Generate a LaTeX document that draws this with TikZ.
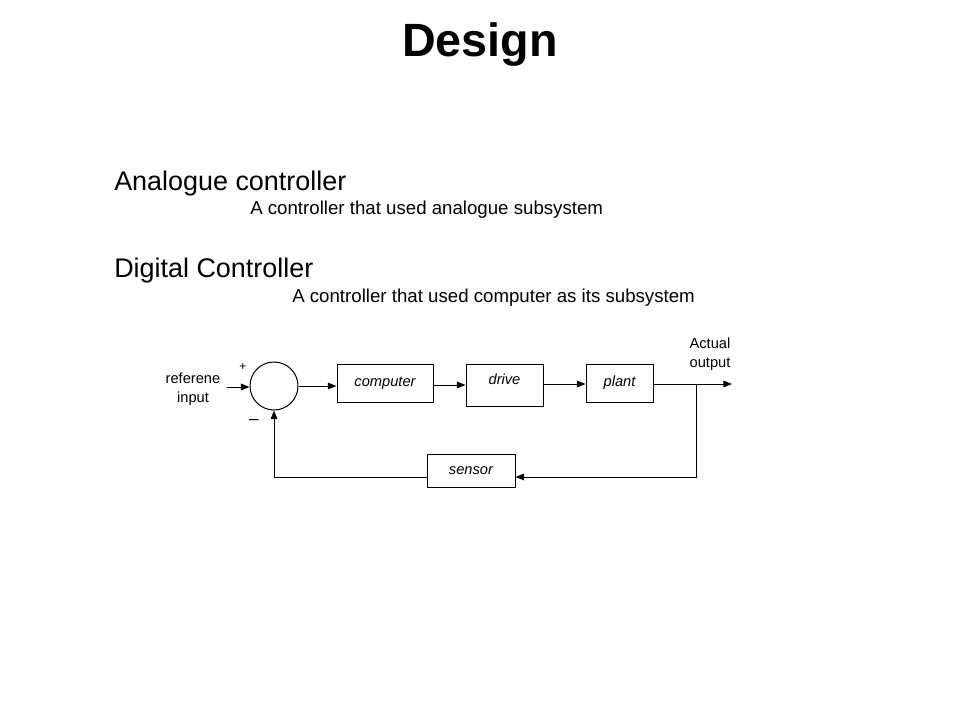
\documentclass[tikz,border=0pt]{standalone}
\usepackage{fontspec}
\setmainfont{Liberation Sans}
\usetikzlibrary{arrows.meta}
\begin{document}
\begin{tikzpicture}[x=0.75pt,y=-0.75pt,
  blk/.style={draw,line width=0.75pt,minimum width=#1,minimum height=28.5pt,inner sep=0pt,font=\fontsize{11}{13}\selectfont\itshape},
  conn/.style={line width=0.75pt,-{Triangle[length=6.5pt,width=5pt]}},
  wire/.style={line width=0.75pt},
  lbl/.style={font=\fontsize{11}{14}\selectfont,align=center,inner sep=0pt}]
\useasboundingbox (0,0) rectangle (960,720);
\node[anchor=base,font=\fontsize{35}{40}\selectfont\bfseries,inner sep=0pt] (title) at (480,57) {Design};
\node[anchor=base west,font=\fontsize{20.2}{24}\selectfont,inner sep=0pt] (h1) at (114,191) {Analogue controller};
\node[anchor=base west,font=\fontsize{14}{16}\selectfont,inner sep=0pt] (s1) at (250,215) {A controller that used analogue subsystem};
\node[anchor=base west,font=\fontsize{20.2}{24}\selectfont,inner sep=0pt] (h2) at (114,277) {Digital Controller};
\node[anchor=base west,font=\fontsize{14}{16}\selectfont,inner sep=0pt] (s2) at (292,302) {A controller that used computer as its subsystem};
% block diagram
\node[draw,circle,line width=0.75pt,minimum size=36pt,inner sep=0pt] (sum) at (274,386) {};
\node[blk=72pt,text height=8pt,text depth=3pt] (comp) at (385,383) {computer};
\node[blk=57.75pt,minimum height=31.5pt,text height=8pt,text depth=9pt] (drive) at (504.5,385) {drive};
\node[blk=50.25pt,text height=8pt,text depth=3pt] (plant) at (619.5,383) {plant};
\node[blk=66pt,minimum height=24.75pt] (sensor) at (471,470.5) {sensor};
\node[lbl] (ref) at (193,389) {referene\\input};
\node[lbl] (act) at (710,354) {Actual\\output};
\node[font=\fontsize{9}{10}\selectfont,inner sep=0pt] (plus) at (243,367) {+};
\node[font=\fontsize{13}{13}\selectfont,inner sep=0pt] (minus) at (254,422) {–};
\coordinate (in) at (227,387);
\coordinate (out) at (732,384);
\coordinate (br) at (696,384);
\coordinate (fb) at (696,477);
\coordinate (fl) at (274,477);
\draw[conn] (in) -- (in -| sum.west);
\draw[conn] (sum.east) -- (sum.east -| comp.west);
\draw[conn] (comp.east |- 0,385) -- (drive.west |- 0,385);
\draw[conn] (drive.east |- 0,384) -- (plant.west |- 0,384);
\draw[conn] (plant.east |- out) -- (out);
\draw[conn] (br) -- (fb) -- (fb -| sensor.east);
\draw[conn] (sensor.west |- fb) -- (fl) -- (sum.south);
\end{tikzpicture}
\end{document}
